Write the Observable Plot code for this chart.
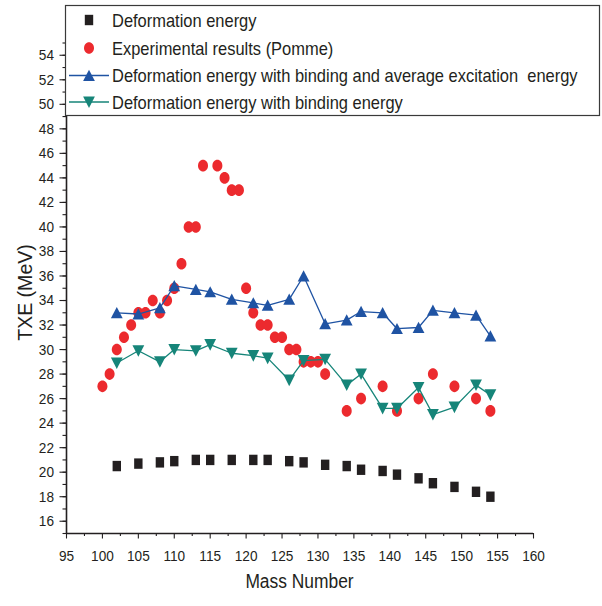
<!DOCTYPE html>
<html>
<head>
<meta charset="utf-8">
<script src="https://cdn.jsdelivr.net/npm/d3@7"></script>
<script src="https://cdn.jsdelivr.net/npm/@observablehq/plot@0.6"></script>
<style>
  html, body { margin: 0; padding: 0; background: #fff; }
  #chart { width: 602px; height: 606px; }
</style>
</head>
<body>
<div id="chart"></div>
<script>
// ---- Data ----
const massModel = [102,105,108,110,113,115,118,121,123,126,128,131,134,136,139,141,144,146,149,152,154];
const deformationEnergy = [20.5,20.7,20.8,20.9,21.0,21.0,21.0,21.0,21.0,20.9,20.8,20.6,20.5,20.2,20.1,19.8,19.5,19.1,18.8,18.4,18.0];
const withBindingAndExcitation = [33.0,32.9,33.4,35.2,34.9,34.7,34.1,33.8,33.6,34.1,36.0,32.1,32.4,33.1,33.0,31.7,31.8,33.2,33.0,32.8,31.1];
const withBinding = [28.9,29.9,29.0,30.0,29.9,30.4,29.7,29.5,29.3,27.5,29.1,29.2,27.1,28.0,25.2,25.2,26.9,24.7,25.3,27.1,26.3];

const massExp = [100,101,102,103,104,105,106,107,108,109,110,111,112,113,114,116,117,118,119,120,121,122,123,124,125,126,127,128,129,130,131,134,136,139,141,144,146,149,152,154];
const experimental = [27,28,30,31,32,33,33,34,33,34,35,37,40,40,45,45,44,43,43,35,33,32,32,31,31,30,30,29,29,29,28,25,26,27,25,26,28,27,26,25];

const seriesNames = [
  "Deformation energy",
  "Experimental results (Pomme)",
  "Deformation energy with binding and average excitation  energy",
  "Deformation energy with binding energy"
];
const xMajorTicks = d3.range(95, 161, 5);
const xMinorTicks = d3.range(97.5, 160, 5);
const yMajorTicks = d3.range(16, 55, 2);
const yMinorTicks = d3.range(15, 56, 1);

// ---- Styling ----
const colBlack = "#231f20", colRed = "#ec2a2e", colBlue = "#1f53a3", colTeal = "#168579";
const FONT = '"Liberation Sans", Arial, sans-serif';
const fsTick = 15.5, sxTick = 0.88;
const fsLegend = 18.5, sxLegend = 0.89;
const fsXLabel = 20, sxXLabel = 0.87;
const fsYLabel = 21, sxYLabel = 0.93;

// custom symbols (slightly tall, as in the reference)
const squareSym = { draw(ctx) { ctx.rect(-4.2, -5.2, 8.4, 10.4); ctx.closePath(); } };
const ellipseSym = { draw(ctx) {
  const rx = 5.0, ry = 5.8, k = 0.5523;
  ctx.moveTo(rx, 0);
  ctx.bezierCurveTo(rx, ry * k, rx * k, ry, 0, ry);
  ctx.bezierCurveTo(-rx * k, ry, -rx, ry * k, -rx, 0);
  ctx.bezierCurveTo(-rx, -ry * k, -rx * k, -ry, 0, -ry);
  ctx.bezierCurveTo(rx * k, -ry, rx, -ry * k, rx, 0);
  ctx.closePath();
} };
const triUpSym = { draw(ctx) { ctx.moveTo(0, -5.8); ctx.lineTo(5.9, 5.4); ctx.lineTo(-5.9, 5.4); ctx.closePath(); } };
const triDownSym = { draw(ctx) { ctx.moveTo(0, 6); ctx.lineTo(5.9, -5.6); ctx.lineTo(-5.9, -5.6); ctx.closePath(); } };

const modelRows = massModel.map((a, i) => ({a, def: deformationEnergy[i], bae: withBindingAndExcitation[i], be: withBinding[i]}));
const expRows = massExp.map((a, i) => ({a, v: experimental[i]}));

const plot = Plot.plot({
  width: 602,
  height: 606,
  marginLeft: 66,
  marginRight: 69,
  marginTop: 42.5,
  marginBottom: 73,
  style: { fontFamily: FONT, fontSize: fsTick + "px", color: colBlack, background: "#fff" },
  x: { domain: [95, 160] },
  y: { domain: [15, 55] },
  marks: [
    Plot.axisX({ ticks: xMinorTicks, tickSize: 3, tickFormat: () => "", label: null, strokeWidth: 1.1 }),
    Plot.axisX({ ticks: xMajorTicks, tickSize: 5.5, tickPadding: 11, label: null, fontSize: fsTick, strokeWidth: 1.1 }),
    Plot.axisY({ ticks: yMinorTicks, tickSize: 3.5, tickFormat: () => "", label: null, strokeWidth: 1.1 }),
    Plot.axisY({ ticks: yMajorTicks, tickSize: 6.5, tickPadding: 6, label: null, fontSize: fsTick, strokeWidth: 1.1 }),
    Plot.ruleX([95], { stroke: colBlack, strokeWidth: 1.6 }),
    Plot.ruleY([15], { stroke: colBlack, strokeWidth: 1.6 }),
    Plot.dot(modelRows, { x: "a", y: "def", symbol: squareSym, r: 5, fill: colBlack, stroke: "none" }),
    Plot.dot(expRows, { x: "a", y: "v", symbol: ellipseSym, r: 5, fill: colRed, stroke: "none" }),
    Plot.line(modelRows, { x: "a", y: "bae", stroke: colBlue, strokeWidth: 1.3 }),
    Plot.dot(modelRows, { x: "a", y: "bae", symbol: triUpSym, r: 5, fill: colBlue, stroke: "none" }),
    Plot.line(modelRows, { x: "a", y: "be", stroke: colTeal, strokeWidth: 1.3 }),
    Plot.dot(modelRows, { x: "a", y: "be", symbol: triDownSym, r: 5, fill: colTeal, stroke: "none" })
  ]
});

document.getElementById("chart").appendChild(plot);
const svg = d3.select(plot);

// condense tick labels horizontally around their own anchor (the reference uses a narrow face)
svg.selectAll('g[aria-label$="tick label"] text').each(function () {
  const t = this.getAttribute("transform") || "";
  const xa = this.getAttribute("x");
  const x = xa && /^-?[\d.]+$/.test(xa.trim()) ? +xa : 0;
  this.setAttribute("transform", `${t} translate(${x},0) scale(${sxTick},1) translate(${-x},0)`.trim());
});

// ---- axis titles and in-chart legend ----
svg.append("text")
  .attr("transform", `translate(299.5,588) scale(${sxXLabel},1)`)
  .attr("text-anchor", "middle")
  .attr("fill", colBlack)
  .style("font-family", FONT).style("font-size", fsXLabel + "px")
  .text("Mass Number");
svg.append("text")
  .attr("transform", `translate(31.5,292.5) rotate(-90) scale(${sxYLabel},1)`)
  .attr("text-anchor", "middle")
  .attr("fill", colBlack)
  .style("font-family", FONT).style("font-size", fsYLabel + "px")
  .text("TXE (MeV)");

const lg = svg.append("g").attr("text-anchor", "start");
lg.append("rect").attr("x", 65.5).attr("y", 5.5).attr("width", 534).attr("height", 110)
  .attr("fill", "#fff").attr("stroke", "#3a3a3a").attr("stroke-width", 1.2);
const rowsY = [20, 48, 75.5, 102];
const syms = [squareSym, ellipseSym, triUpSym, triDownSym];
const cols = [colBlack, colRed, colBlue, colTeal];
const hasLine = [false, false, true, true];
seriesNames.forEach((name, i) => {
  const y = rowsY[i];
  if (hasLine[i]) {
    lg.append("line").attr("x1", 69).attr("x2", 109).attr("y1", y).attr("y2", y)
      .attr("stroke", cols[i]).attr("stroke-width", 1.3);
  }
  const p = d3.path(); syms[i].draw(p);
  lg.append("path").attr("d", p.toString()).attr("transform", `translate(89,${y})`).attr("fill", cols[i]);
  lg.append("text")
    .attr("transform", `translate(112,${y}) scale(${sxLegend},1)`)
    .attr("dy", "0.36em")
    .attr("text-anchor", "start")
    .attr("fill", colBlack)
    .style("font-family", FONT).style("font-size", fsLegend + "px")
    .text(name);
});
</script>
</body>
</html>
